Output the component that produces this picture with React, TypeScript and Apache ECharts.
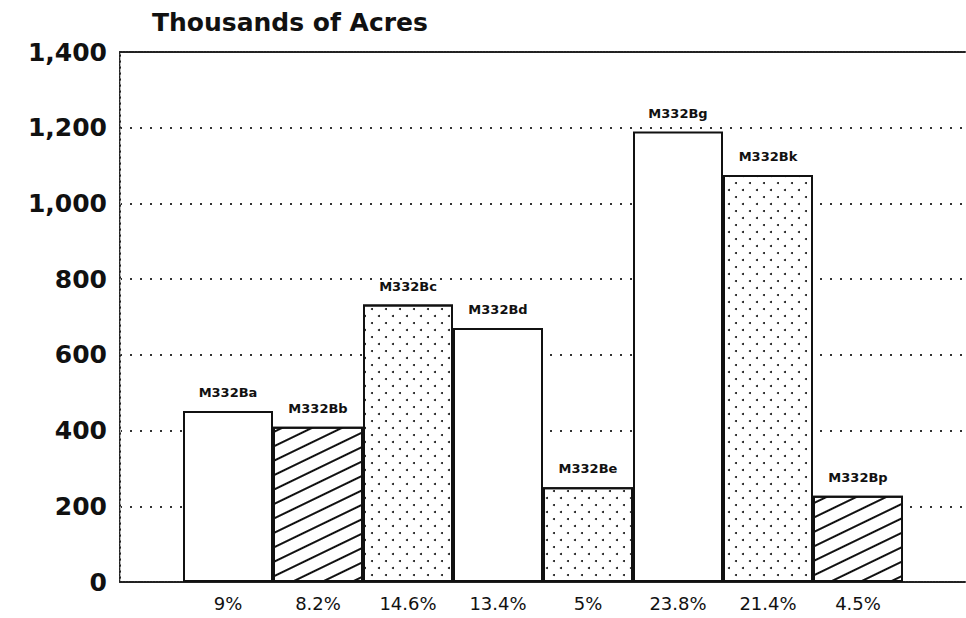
import { useEffect, useRef } from "react";
import * as echarts from "echarts";

// ---- data ----
const codes = ["M332Ba", "M332Bb", "M332Bc", "M332Bd", "M332Be", "M332Bg", "M332Bk", "M332Bp"];
const percents = ["9%", "8.2%", "14.6%", "13.4%", "5%", "23.8%", "21.4%", "4.5%"];
const acres = [452, 410, 733, 671, 250, 1190, 1075, 228];
const fills = ["plain", "hatch", "dots", "plain", "dots", "plain", "dots", "hatch"];
const yMin = 0;
const yMax = 1400;
const yStep = 200;
const titleText = "Thousands of Acres";

const FONT = "DejaVu Sans";
const INK = "#111";

const decals: Record<string, any> = {
  hatch: {
    symbol: "rect",
    symbolSize: 1,
    dashArrayX: [1, 0],
    dashArrayY: [2, 11],
    rotation: -0.45,
    color: INK,
  },
  dots: {
    symbol: "circle",
    symbolSize: 1,
    dashArrayX: [[2, 12], [0, 7, 2, 5]],
    dashArrayY: [2, 5],
    rotation: 0,
    color: INK,
  },
};

export default function App() {
  const ref = useRef<HTMLDivElement>(null);
  useEffect(() => {
    if (!ref.current) return;
    const chart = echarts.init(ref.current, null, { renderer: "svg" });
    const seriesData = acres.map((v, i) => ({
      value: v,
      itemStyle: {
        color: "#fff",
        borderColor: INK,
        borderWidth: 2,
        decal: fills[i] === "plain" ? "none" : decals[fills[i]],
      },
    }));
    chart.setOption({
      animation: false,
      backgroundColor: "#fff",
      title: {
        text: titleText,
        left: 147,
        top: 5,
        textStyle: { fontFamily: FONT, fontSize: 25, fontWeight: "bold", color: INK },
      },
      grid: [
        { left: 120, right: 1, top: 52, bottom: 36 },
        { left: 183, width: 720, top: 52, bottom: 36 },
      ],
      xAxis: [
        {
          gridIndex: 0,
          type: "value",
          min: 0,
          max: 1,
          position: "bottom",
          axisLine: { show: true, onZero: false, lineStyle: { color: "#222", width: 2, type: [2, 1] } },
          axisTick: { show: false },
          axisLabel: { show: false },
          splitLine: { show: false },
        },
        {
          gridIndex: 1,
          type: "category",
          data: percents,
          axisLine: { show: false },
          axisTick: { show: false },
          axisLabel: { fontFamily: FONT, fontSize: 18, color: INK, margin: 12 },
          splitLine: { show: false },
        },
        {
          gridIndex: 0,
          type: "value",
          min: 0,
          max: 1,
          position: "top",
          axisLine: { show: true, onZero: false, lineStyle: { color: "#222", width: 2, type: [2, 1] } },
          axisTick: { show: false },
          axisLabel: { show: false },
          splitLine: { show: false },
        },
      ],
      yAxis: [
        {
          gridIndex: 0,
          type: "value",
          min: yMin,
          max: yMax,
          interval: yStep,
          position: "left",
          axisLine: { show: true, lineStyle: { color: "#222", width: 2, type: [2, 1] } },
          axisTick: { show: false },
          axisLabel: {
            fontFamily: FONT,
            fontSize: 25,
            fontWeight: "bold",
            color: INK,
            margin: 13,
            formatter: (v: number) => v.toLocaleString("en-US"),
          },
          splitLine: { show: true, lineStyle: { color: "#333", width: 2, type: [2, 8] } },
        },
        {
          gridIndex: 1,
          type: "value",
          min: yMin,
          max: yMax,
          interval: yStep,
          show: false,
          splitLine: { show: false },
        },
        {
          gridIndex: 0,
          type: "value",
          min: yMin,
          max: yMax,
          interval: yStep,
          position: "right",
          axisLine: { show: true, lineStyle: { color: "#bbb", width: 1, type: [3, 3] } },
          axisTick: { show: false },
          axisLabel: { show: false },
          splitLine: { show: false },
        },
      ],
      series: [
        {
          type: "bar",
          xAxisIndex: 1,
          yAxisIndex: 1,
          data: seriesData,
          barCategoryGap: "0%",
          barGap: "0%",
          z: 3,
          label: {
            show: true,
            position: "top",
            distance: 12,
            formatter: (p: any) => codes[p.dataIndex],
            fontFamily: FONT,
            fontWeight: "bold",
            fontSize: 13,
            color: INK,
          },
        },
      ],
    });
    return () => chart.dispose();
  }, []);
  return (
    <div
      ref={ref}
      style={{ position: "fixed", left: 0, top: 0, width: 966, height: 618 }}
    />
  );
}
